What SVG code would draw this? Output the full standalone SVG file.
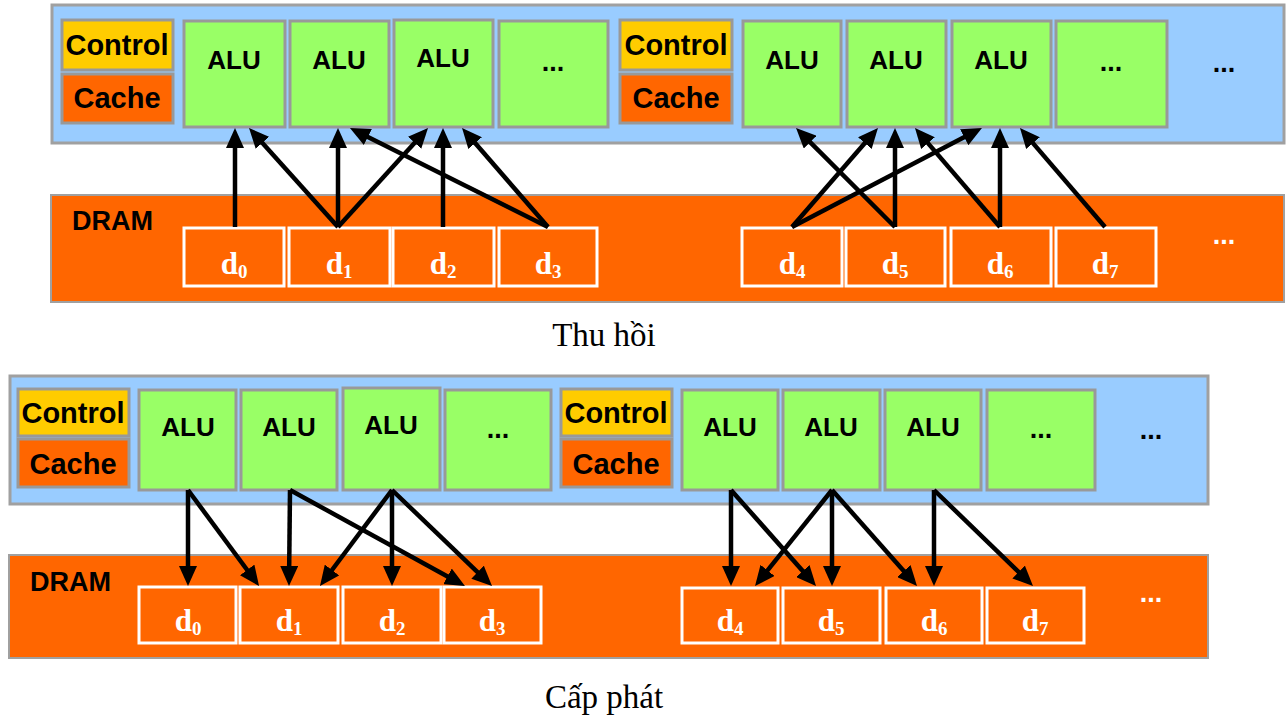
<svg xmlns="http://www.w3.org/2000/svg" width="1287" height="718" viewBox="0 0 1287 718">
  <style>
    .chip { fill: #99ccff; stroke: #a0a0a0; stroke-width: 3; }
    .dram { fill: #ff6600; stroke: #a0a0a0; stroke-width: 2; }
    .ctrl { fill: #ffcc00; stroke: #999999; stroke-width: 3; }
    .cache { fill: #ff6600; stroke: #999999; stroke-width: 3; }
    .alu { fill: #99ff66; stroke: #999999; stroke-width: 3; }
    .cell { fill: none; stroke: #ffffff; stroke-width: 3; }
    .lbl { font-family: "Liberation Sans", Arial, sans-serif; font-weight: bold; fill: #000000; text-anchor: middle; }
    .big { font-size: 29px; }
    .alut { font-size: 26px; }
    .dramt { font-family: "Liberation Sans", Arial, sans-serif; font-weight: bold; font-size: 27px; fill: #000000; }
    .dots { font-family: "Liberation Sans", Arial, sans-serif; font-weight: bold; font-size: 27px; text-anchor: middle; }
    .dt { font-family: "Liberation Serif", "Times New Roman", serif; font-weight: bold; font-size: 31px; fill: #ffffff; text-anchor: middle; }
    .sub { font-size: 19px; }
    .cap { font-family: "Liberation Serif", "Times New Roman", serif; font-size: 33px; fill: #000000; text-anchor: middle; }
    .arrows line { stroke: #000000; stroke-width: 4.5; marker-end: url(#head); }
  </style>
  <defs>
    <marker id="head" viewBox="0 0 20 18" refX="10" refY="9" markerWidth="20" markerHeight="18" markerUnits="userSpaceOnUse" orient="auto">
      <path d="M0,0 L20,9 L0,18 z" fill="#000000"/>
    </marker>
  </defs>

  <rect width="1287" height="718" fill="#ffffff"/>

  <!-- ===== Upper figure: gather ===== -->
  <g id="gather-chip">
    <rect class="chip" x="52" y="5" width="1232" height="138"/>
  </g>
  <g id="gather-dram">
    <rect class="dram" x="51" y="195" width="1233" height="107"/>
    <text class="dramt" x="72" y="230">DRAM</text>
  </g>

  <g id="gather-ctrl1">
    <rect class="ctrl" x="62" y="20" width="111" height="50"/>
    <text class="lbl big" x="117" y="55">Control</text>
  </g>
  <g id="gather-cache1">
    <rect class="cache" x="62" y="74" width="111" height="49"/>
    <text class="lbl big" x="117" y="108">Cache</text>
  </g>
  <g id="gather-alu1"><rect class="alu" x="184" y="21" width="101" height="106"/><text class="lbl alut" x="234" y="69">ALU</text></g>
  <g id="gather-alu2"><rect class="alu" x="290" y="21" width="99" height="106"/><text class="lbl alut" x="339" y="69">ALU</text></g>
  <g id="gather-alu3"><rect class="alu" x="394" y="20" width="99" height="107"/><text class="lbl alut" x="443" y="67">ALU</text></g>
  <g id="gather-alu4"><rect class="alu" x="499" y="21" width="109" height="106"/><text class="dots" x="553" y="71">...</text></g>

  <g id="gather-ctrl2">
    <rect class="ctrl" x="620" y="20" width="112" height="50"/>
    <text class="lbl big" x="676" y="55">Control</text>
  </g>
  <g id="gather-cache2">
    <rect class="cache" x="620" y="74" width="112" height="49"/>
    <text class="lbl big" x="676" y="108">Cache</text>
  </g>
  <g id="gather-alu5"><rect class="alu" x="743" y="21" width="98" height="106"/><text class="lbl alut" x="792" y="69">ALU</text></g>
  <g id="gather-alu6"><rect class="alu" x="847" y="21" width="99" height="106"/><text class="lbl alut" x="896" y="69">ALU</text></g>
  <g id="gather-alu7"><rect class="alu" x="952" y="21" width="99" height="106"/><text class="lbl alut" x="1001" y="69">ALU</text></g>
  <g id="gather-alu8"><rect class="alu" x="1056" y="21" width="111" height="106"/><text class="dots" x="1111" y="71">...</text></g>
  <g id="gather-more"><text class="dots" x="1224" y="72">...</text></g>

  <g id="gather-d0"><rect class="cell" x="184" y="228" width="100" height="58"/><text class="dt" x="234" y="274">d<tspan class="sub" dy="4">0</tspan></text></g>
  <g id="gather-d1"><rect class="cell" x="289" y="228" width="101" height="58"/><text class="dt" x="339" y="274">d<tspan class="sub" dy="4">1</tspan></text></g>
  <g id="gather-d2"><rect class="cell" x="393" y="228" width="101" height="58"/><text class="dt" x="443" y="274">d<tspan class="sub" dy="4">2</tspan></text></g>
  <g id="gather-d3"><rect class="cell" x="499" y="228" width="98" height="58"/><text class="dt" x="548" y="274">d<tspan class="sub" dy="4">3</tspan></text></g>
  <g id="gather-d4"><rect class="cell" x="742" y="228" width="100" height="58"/><text class="dt" x="792" y="274">d<tspan class="sub" dy="4">4</tspan></text></g>
  <g id="gather-d5"><rect class="cell" x="846" y="228" width="99" height="58"/><text class="dt" x="895" y="274">d<tspan class="sub" dy="4">5</tspan></text></g>
  <g id="gather-d6"><rect class="cell" x="951" y="228" width="100" height="58"/><text class="dt" x="1000" y="274">d<tspan class="sub" dy="4">6</tspan></text></g>
  <g id="gather-d7"><rect class="cell" x="1056" y="228" width="100" height="58"/><text class="dt" x="1105" y="274">d<tspan class="sub" dy="4">7</tspan></text></g>
  <g id="gather-dmore"><text class="dots" x="1224" y="244" fill="#ffffff">...</text></g>

  <g id="gather-arrows" class="arrows">
    <line x1="235" y1="227" x2="235" y2="138"/>
    <line x1="338" y1="227" x2="255.7" y2="135.4"/>
    <line x1="338" y1="227" x2="338" y2="138"/>
    <line x1="338" y1="227" x2="421.3" y2="135.4"/>
    <line x1="443" y1="227" x2="443" y2="138"/>
    <line x1="548" y1="227" x2="358.9" y2="132.5"/>
    <line x1="548" y1="227" x2="468.6" y2="135.6"/>
    <line x1="792" y1="227" x2="871.4" y2="135.6"/>
    <line x1="792" y1="227" x2="973.1" y2="132.6"/>
    <line x1="895" y1="227" x2="803.1" y2="135.1"/>
    <line x1="895" y1="227" x2="895" y2="138"/>
    <line x1="1000" y1="227" x2="921.5" y2="135.6"/>
    <line x1="1000" y1="227" x2="1000" y2="138"/>
    <line x1="1105" y1="227" x2="1026.5" y2="135.6"/>
  </g>

  <text id="gather-caption" class="cap" x="604" y="346">Thu hồi</text>

  <!-- ===== Lower figure: scatter ===== -->
  <g id="scatter-chip">
    <rect class="chip" x="10" y="376" width="1198" height="128"/>
  </g>
  <g id="scatter-dram">
    <rect class="dram" x="9" y="555" width="1199" height="103"/>
    <text class="dramt" x="30" y="591">DRAM</text>
  </g>

  <g id="scatter-ctrl1">
    <rect class="ctrl" x="18" y="389" width="111" height="47"/>
    <text class="lbl big" x="73" y="423">Control</text>
  </g>
  <g id="scatter-cache1">
    <rect class="cache" x="18" y="439" width="111" height="48"/>
    <text class="lbl big" x="73" y="474">Cache</text>
  </g>
  <g id="scatter-alu1"><rect class="alu" x="139" y="390" width="97" height="100"/><text class="lbl alut" x="188" y="436">ALU</text></g>
  <g id="scatter-alu2"><rect class="alu" x="241" y="390" width="96" height="100"/><text class="lbl alut" x="289" y="436">ALU</text></g>
  <g id="scatter-alu3"><rect class="alu" x="343" y="388" width="97" height="102"/><text class="lbl alut" x="391" y="434">ALU</text></g>
  <g id="scatter-alu4"><rect class="alu" x="445" y="390" width="106" height="100"/><text class="dots" x="498" y="438">...</text></g>

  <g id="scatter-ctrl2">
    <rect class="ctrl" x="561" y="389" width="111" height="47"/>
    <text class="lbl big" x="616" y="423">Control</text>
  </g>
  <g id="scatter-cache2">
    <rect class="cache" x="561" y="439" width="111" height="48"/>
    <text class="lbl big" x="616" y="474">Cache</text>
  </g>
  <g id="scatter-alu5"><rect class="alu" x="682" y="390" width="96" height="100"/><text class="lbl alut" x="730" y="436">ALU</text></g>
  <g id="scatter-alu6"><rect class="alu" x="783" y="390" width="97" height="100"/><text class="lbl alut" x="831" y="436">ALU</text></g>
  <g id="scatter-alu7"><rect class="alu" x="885" y="390" width="96" height="100"/><text class="lbl alut" x="933" y="436">ALU</text></g>
  <g id="scatter-alu8"><rect class="alu" x="987" y="390" width="108" height="100"/><text class="dots" x="1041" y="438">...</text></g>
  <g id="scatter-more"><text class="dots" x="1151" y="439">...</text></g>

  <g id="scatter-d0"><rect class="cell" x="139" y="587" width="97" height="56"/><text class="dt" x="188" y="631">d<tspan class="sub" dy="4">0</tspan></text></g>
  <g id="scatter-d1"><rect class="cell" x="240" y="587" width="98" height="56"/><text class="dt" x="289" y="631">d<tspan class="sub" dy="4">1</tspan></text></g>
  <g id="scatter-d2"><rect class="cell" x="343" y="587" width="98" height="56"/><text class="dt" x="392" y="631">d<tspan class="sub" dy="4">2</tspan></text></g>
  <g id="scatter-d3"><rect class="cell" x="444" y="587" width="97" height="56"/><text class="dt" x="492" y="631">d<tspan class="sub" dy="4">3</tspan></text></g>
  <g id="scatter-d4"><rect class="cell" x="682" y="588" width="96" height="55"/><text class="dt" x="730" y="631">d<tspan class="sub" dy="4">4</tspan></text></g>
  <g id="scatter-d5"><rect class="cell" x="783" y="588" width="97" height="55"/><text class="dt" x="831" y="631">d<tspan class="sub" dy="4">5</tspan></text></g>
  <g id="scatter-d6"><rect class="cell" x="886" y="588" width="96" height="55"/><text class="dt" x="934" y="631">d<tspan class="sub" dy="4">6</tspan></text></g>
  <g id="scatter-d7"><rect class="cell" x="987" y="588" width="97" height="55"/><text class="dt" x="1035" y="631">d<tspan class="sub" dy="4">7</tspan></text></g>
  <g id="scatter-dmore"><text class="dots" x="1151" y="602" fill="#ffffff">...</text></g>

  <g id="scatter-arrows" class="arrows">
    <line x1="188" y1="490" x2="188" y2="576"/>
    <line x1="188" y1="490" x2="253.1" y2="578"/>
    <line x1="290" y1="490" x2="289.1" y2="576"/>
    <line x1="290" y1="490" x2="456.2" y2="581.2"/>
    <line x1="392" y1="490" x2="326" y2="578"/>
    <line x1="392" y1="490" x2="392" y2="576"/>
    <line x1="392" y1="490" x2="484.8" y2="579.1"/>
    <line x1="731" y1="490" x2="731" y2="576"/>
    <line x1="731" y1="490" x2="809.4" y2="578.5"/>
    <line x1="832" y1="490" x2="761.3" y2="578.2"/>
    <line x1="832" y1="490" x2="832" y2="576"/>
    <line x1="832" y1="490" x2="910.4" y2="578.5"/>
    <line x1="934" y1="490" x2="934" y2="576"/>
    <line x1="934" y1="490" x2="1025.8" y2="579"/>
  </g>

  <text id="scatter-caption" class="cap" x="604" y="708">Cấp phát</text>
</svg>
